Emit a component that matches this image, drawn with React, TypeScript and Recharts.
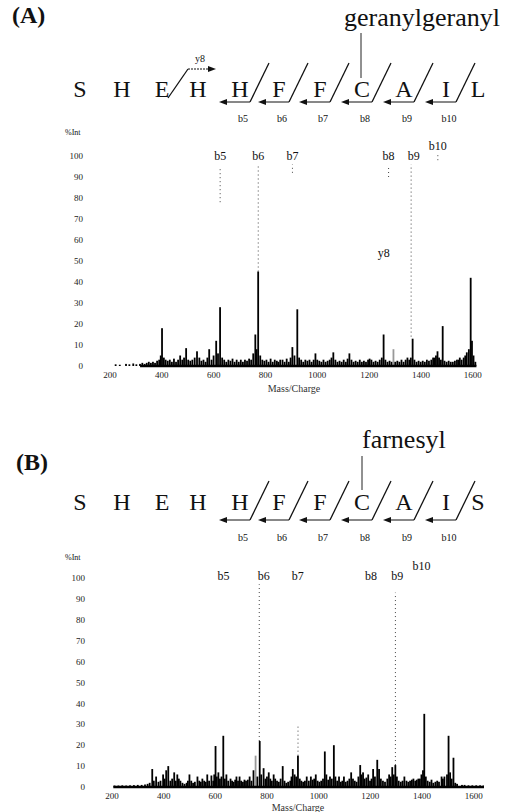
import {
  ComposedChart,
  Bar,
  Cell,
  XAxis,
  YAxis,
  Label,
  ReferenceLine,
  ReferenceDot,
} from 'recharts'

const SERIF = 'Liberation Serif, Times New Roman, Times, serif'

// peptide sequences
const residuesA = ['S', 'H', 'E', 'H', 'H', 'F', 'F', 'C', 'A', 'I', 'L']
const residuesB = ['S', 'H', 'E', 'H', 'H', 'F', 'F', 'C', 'A', 'I', 'S']
const bIons = ['b5', 'b6', 'b7', 'b8', 'b9', 'b10']

// axis ticks
const xTicks = [200, 400, 600, 800, 1000, 1200, 1400, 1600]
const yTicks = [0, 10, 20, 30, 40, 50, 60, 70, 80, 90, 100]

// (A) geranylgeranyl - main peaks [m/z, %Int]
const peaksA: [number, number][] = [
  [401, 18], [471, 5], [494, 8.5], [536, 7], [583, 8], [610, 12], [625, 28],
  [761, 15], [772, 45], [857, 3], [904, 9], [923, 27], [993, 6], [1062, 6.5],
  [1124, 6], [1209, 3], [1256, 15], [1294, 8], [1348, 4], [1368, 13],
  [1453, 4], [1464, 7], [1484, 19], [1550, 4], [1577, 6.5], [1592, 42], [1597, 12],
]
// (A) baseline noise
const noiseA: [number, number][] = [
  [222, 0.8], [238, 0.6], [262, 1], [275, 0.8], [290, 1.2], [302, 0.8],
  [316, 1], [325, 1.5], [334, 1], [342, 1.5], [350, 2], [358, 1.5], [366, 2],
  [374, 1.5], [382, 2.5], [390, 3], [396, 5], [408, 4], [415, 3], [423, 2.5],
  [431, 3], [439, 2], [447, 3.5], [455, 2], [463, 3], [479, 3], [486, 4],
  [502, 3], [510, 2.5], [518, 3], [527, 4], [545, 4], [553, 2.5], [561, 3],
  [569, 2], [576, 4], [592, 3], [600, 5], [617, 6], [633, 4], [641, 3],
  [649, 2], [657, 3], [665, 2.5], [673, 3.5], [681, 2], [689, 3], [697, 2],
  [705, 3], [713, 2], [721, 3], [729, 2.5], [737, 3.5], [745, 3], [753, 6],
  [766, 8], [780, 5], [788, 3], [796, 2.5], [804, 3], [812, 2], [820, 3.5],
  [828, 2], [836, 3], [844, 2.5], [850, 2], [866, 3], [874, 2], [882, 3.5],
  [890, 2], [897, 4], [912, 5], [930, 4], [938, 3], [946, 2], [954, 3],
  [962, 2.5], [970, 3], [978, 2], [986, 3], [1000, 3], [1008, 2.5], [1016, 2],
  [1024, 3], [1032, 2], [1040, 2.5], [1048, 3], [1055, 4], [1070, 3], [1078, 2],
  [1086, 2.5], [1094, 2], [1102, 3], [1110, 2], [1117, 3.5], [1132, 3],
  [1140, 2], [1148, 2.5], [1156, 2], [1164, 3], [1172, 2], [1180, 2.5],
  [1188, 2], [1196, 3], [1202, 3.5], [1217, 2], [1225, 2.5], [1233, 2],
  [1241, 3], [1249, 4], [1263, 3], [1271, 2], [1279, 2.5], [1287, 2],
  [1301, 2], [1309, 2.5], [1317, 2], [1325, 3], [1333, 2], [1341, 3],
  [1355, 3], [1361, 4], [1375, 3], [1383, 2], [1391, 2.5], [1399, 2],
  [1407, 2.5], [1415, 2], [1423, 3], [1431, 2.5], [1440, 3], [1447, 4],
  [1458, 5], [1470, 4], [1477, 3], [1491, 2.5], [1499, 2], [1507, 2.5],
  [1515, 2], [1523, 2], [1531, 2.5], [1539, 3], [1545, 3], [1557, 3],
  [1565, 4], [1571, 5], [1585, 8], [1603, 5], [1610, 2],
]
const grayA = [1294]
const labelsA = [
  { ion: 'b5', mz: 625, y: 100 },
  { ion: 'b6', mz: 772, y: 100 },
  { ion: 'b7', mz: 904, y: 100 },
  { ion: 'b8', mz: 1275, y: 100 },
  { ion: 'b9', mz: 1372, y: 100 },
  { ion: 'b10', mz: 1465, y: 105 },
  { ion: 'y8', mz: 1256, y: 54 },
]
const dotsA = [
  { mz: 625, from: 78, to: 95 },
  { mz: 772, from: 45, to: 96 },
  { mz: 904, from: 92, to: 96 },
  { mz: 1275, from: 90, to: 95 },
  { mz: 1362, from: 14, to: 96 },
  { mz: 1465, from: 98, to: 101 },
]

// (B) farnesyl - main peaks [m/z, %Int]
const peaksB: [number, number][] = [
  [356, 8.6], [371, 5], [398, 6], [410, 8], [418, 10], [441, 7], [453, 6],
  [465, 3], [500, 6], [531, 5], [550, 4], [569, 6], [585, 5.5], [601, 19.6],
  [612, 7], [631, 24.5], [643, 6], [659, 4], [682, 5], [694, 5], [713, 3.5],
  [733, 5], [748, 8], [756, 15], [772, 22], [787, 9], [807, 7], [826, 6],
  [861, 10], [900, 8.6], [920, 15], [954, 5], [970, 5], [989, 6], [1024, 17],
  [1044, 5], [1059, 20], [1079, 5], [1098, 5], [1126, 7], [1161, 10.5],
  [1172, 7], [1192, 6], [1211, 8.6], [1227, 13], [1234, 8.6], [1273, 6],
  [1285, 9.5], [1297, 10.5], [1332, 5], [1367, 4], [1386, 4], [1398, 6],
  [1409, 35], [1437, 3.5], [1476, 5], [1487, 5], [1503, 24.5], [1522, 14],
]
// (B) baseline noise
const noiseB: [number, number][] = [
  [210, 0.7], [225, 0.7], [240, 0.8], [255, 0.7], [270, 0.8], [285, 0.9],
  [300, 1], [315, 1], [328, 1.2], [338, 1.5], [346, 2], [362, 3], [380, 2.5],
  [388, 3], [404, 4], [426, 3], [433, 4], [447, 3], [459, 4], [473, 2],
  [481, 1.5], [489, 2], [494, 3], [507, 3], [514, 2], [521, 2.5], [538, 3],
  [544, 2.5], [557, 3], [563, 2.5], [576, 3], [592, 3], [596, 6], [606, 5],
  [618, 4], [624, 5], [637, 4], [650, 3], [665, 3], [671, 2.5], [677, 3.5],
  [688, 3], [700, 3], [707, 2.5], [719, 3], [726, 3.5], [740, 3], [763, 5],
  [778, 6], [794, 4], [800, 5], [813, 4], [819, 3], [832, 4], [839, 3],
  [846, 2.5], [853, 4], [868, 3], [875, 2], [882, 2.5], [890, 3], [895, 5],
  [907, 6], [913, 5], [927, 4], [933, 3], [940, 2.5], [947, 3], [962, 3],
  [977, 3.5], [983, 4], [996, 3], [1003, 2.5], [1010, 3], [1017, 4], [1030, 6],
  [1037, 3.5], [1051, 4], [1065, 5], [1072, 3], [1086, 2.5], [1092, 3],
  [1105, 2.5], [1112, 3], [1119, 4], [1133, 4], [1140, 3], [1147, 2.5],
  [1154, 5], [1166, 6], [1178, 4], [1185, 4.5], [1199, 3], [1205, 4],
  [1218, 5], [1241, 4], [1249, 3], [1257, 2.5], [1266, 4], [1279, 5],
  [1291, 6], [1303, 5], [1310, 3], [1318, 2.5], [1325, 3], [1340, 3],
  [1347, 2.5], [1354, 3], [1361, 3.5], [1374, 3], [1380, 3.5], [1392, 4],
  [1404, 8], [1415, 5], [1422, 3], [1430, 2.5], [1444, 2], [1452, 2.5],
  [1459, 3], [1466, 2.5], [1481, 4], [1497, 6], [1509, 7], [1515, 4],
  [1529, 2], [1536, 1.5], [1555, 1], [1565, 1], [1580, 0.8], [1595, 0.8],
  [1610, 0.8], [1625, 0.8], [1638, 0.7],
]
const grayB = [756]
const labelsB = [
  { ion: 'b5', mz: 632, y: 101 },
  { ion: 'b6', mz: 787, y: 101 },
  { ion: 'b7', mz: 919, y: 101 },
  { ion: 'b8', mz: 1203, y: 101 },
  { ion: 'b9', mz: 1304, y: 101 },
  { ion: 'b10', mz: 1398, y: 106 },
]
const dotsB = [
  { mz: 770, from: 22, to: 97 },
  { mz: 920, from: 15, to: 30 },
  { mz: 1297, from: 10.5, to: 93 },
]

// fixed layout of the sequence letters (x centres)
const SEQ_X = [80, 122, 162, 198, 240, 279, 320, 362, 404, 446, 478]

const toRows = (peaks: [number, number][], noise: [number, number][], gray: number[]) =>
  [...peaks, ...noise]
    .map(([mz, v]) => ({ mz, v, gray: gray.includes(mz) }))
    .sort((a, b) => a.mz - b.mz)

const rowsA = toRows(peaksA, noiseA, grayA)
const rowsB = toRows(peaksB, noiseB, grayB)

const tickStyle = { fontSize: 9, fill: '#222', fontFamily: SERIF }

// draw each stick 1.8px wide, centred on the bar slot the library computed
const Stick = (props: any) => {
  const { x, y, width, height, fill } = props
  if (!height || height <= 0) return null
  return <rect x={x + width / 2 - 0.9} y={y} width={1.8} height={height} fill={fill} />
}

interface SpectrumProps {
  rows: Array<{ mz: number; v: number; gray: boolean }>
  labels: Array<{ ion: string; mz: number; y: number }>
  dots: Array<{ mz: number; from: number; to: number }>
  floor: [number, number]
  xMax: number
  height: number
  margin: { top: number; right: number; bottom: number; left: number }
  axisHeight: number
}

const Spectrum = ({ rows, labels, dots, floor, xMax, height, margin, axisHeight }: SpectrumProps) => (
  <ComposedChart width={518} height={height} data={rows} margin={margin}>
    <XAxis
      dataKey="mz"
      type="number"
      domain={[200, xMax]}
      ticks={xTicks}
      interval={0}
      axisLine={false}
      tickLine={false}
      tickSize={0}
      tickMargin={6}
      height={axisHeight}
      tick={tickStyle}
      allowDataOverflow
    >
      <Label value="Mass/Charge" position="insideBottom" offset={0} fontSize={10} fill="#333" fontFamily={SERIF} />
    </XAxis>
    <YAxis
      type="number"
      domain={[0, 100]}
      ticks={yTicks}
      interval={0}
      width={50}
      axisLine={false}
      tickLine={false}
      tickSize={0}
      tickMargin={27}
      tick={tickStyle}
    />
    <ReferenceLine
      segment={[{ x: floor[0], y: 0 }, { x: floor[1], y: 0 }]}
      stroke="#000"
      strokeWidth={2.5}
    />
    <Bar dataKey="v" barSize={1.5} shape={Stick} isAnimationActive={false}>
      {rows.map((r) => (
        <Cell key={r.mz} fill={r.gray ? '#999' : '#000'} />
      ))}
    </Bar>
    {dots.map((d) => (
      <ReferenceLine
        key={'d' + d.mz}
        segment={[{ x: d.mz, y: d.from }, { x: d.mz, y: d.to }]}
        stroke="#444"
        strokeDasharray="1 3"
        ifOverflow="visible"
      />
    ))}
    {labels.map((l) => (
      <ReferenceDot
        key={l.ion}
        x={l.mz}
        y={l.y}
        r={1}
        fill="none"
        stroke="none"
        ifOverflow="visible"
        label={{ value: l.ion, position: 'center', fontSize: 12, fill: '#111', fontFamily: SERIF }}
      />
    ))}
  </ComposedChart>
)

interface HeaderProps {
  title: string
  titleX: number
  titleY: number
  residues: string[]
  mod: string
  modX: number
  modY: number
  lineX: number
  lineTop: number
  lineBottom: number
  letterY: number
  arrowY: number
  ionY: number
  intY: number
  y8?: boolean
}

const Header = ({
  title, titleX, titleY, residues, mod, modX, modY, lineX, lineTop, lineBottom,
  letterY, arrowY, ionY, intY, y8,
}: HeaderProps) => (
  <g fill="#111" fontFamily={SERIF}>
    <text x={titleX} y={titleY} fontSize={24} fontWeight="bold">{title}</text>
    <text x={modX} y={modY} fontSize={26}>{mod}</text>
    <line x1={lineX} x2={lineX} y1={lineTop} y2={lineBottom} stroke="#222" strokeWidth={1} />
    {residues.map((r, i) => (
      <text key={i} x={SEQ_X[i]} y={letterY} fontSize={24} textAnchor="middle">{r}</text>
    ))}
    {bIons.map((ion, k) => {
      const c = SEQ_X[k + 4]
      const bx = c + 10
      return (
        <g key={ion}>
          <line x1={bx} y1={arrowY} x2={bx + 19} y2={arrowY - 39} stroke="#111" strokeWidth={1.3} />
          <line x1={bx} y1={arrowY} x2={c - 14} y2={arrowY} stroke="#111" strokeWidth={1} />
          <polygon points={`${c - 21},${arrowY} ${c - 13},${arrowY - 3} ${c - 13},${arrowY + 3}`} fill="#111" />
          <text x={c + 3} y={ionY} fontSize={10} textAnchor="middle">{ion}</text>
        </g>
      )
    })}
    {y8 && (
      <g>
        <line x1={168} y1={arrowY - 4} x2={188} y2={arrowY - 33} stroke="#111" strokeWidth={1.3} />
        <line x1={188} y1={arrowY - 33} x2={208} y2={arrowY - 33} stroke="#111" strokeWidth={1} strokeDasharray="2 1" />
        <polygon points={`${216},${arrowY - 33} ${208},${arrowY - 36} ${208},${arrowY - 30}`} fill="#111" />
        <text x={200} y={arrowY - 40} fontSize={10} textAnchor="middle">y8</text>
      </g>
    )}
    <text x={65} y={intY} fontSize={8}>%Int</text>
  </g>
)

export default function App() {
  return (
    <div style={{ position: 'absolute', left: 0, top: 0, width: 518, height: 812, background: '#fff', fontFamily: SERIF }}>
      <svg width={518} height={812} style={{ position: 'absolute', left: 0, top: 0 }}>
        <Header
          title="(A)" titleX={12} titleY={23} residues={residuesA}
          mod="geranylgeranyl" modX={344} modY={26}
          lineX={361} lineTop={33} lineBottom={78}
          letterY={97} arrowY={102} ionY={122} intY={135} y8
        />
        <Header
          title="(B)" titleX={16} titleY={470} residues={residuesB}
          mod="farnesyl" modX={362} modY={448}
          lineX={362} lineTop={456} lineBottom={490}
          letterY={510} arrowY={520} ionY={541} intY={560}
        />
      </svg>
      <div style={{ position: 'absolute', left: 0, top: 120 }}>
        <Spectrum
          rows={rowsA} labels={labelsA} dots={dotsA} floor={[316, 1614]} xMax={1620}
          height={280} margin={{ top: 36, right: 40, bottom: 8, left: 60 }} axisHeight={26}
        />
      </div>
      <div style={{ position: 'absolute', left: 0, top: 540 }}>
        <Spectrum
          rows={rowsB} labels={labelsB} dots={dotsB} floor={[205, 1640]} xMax={1640}
          height={272} margin={{ top: 38, right: 34, bottom: 1, left: 62 }} axisHeight={24}
        />
      </div>
    </div>
  )
}
